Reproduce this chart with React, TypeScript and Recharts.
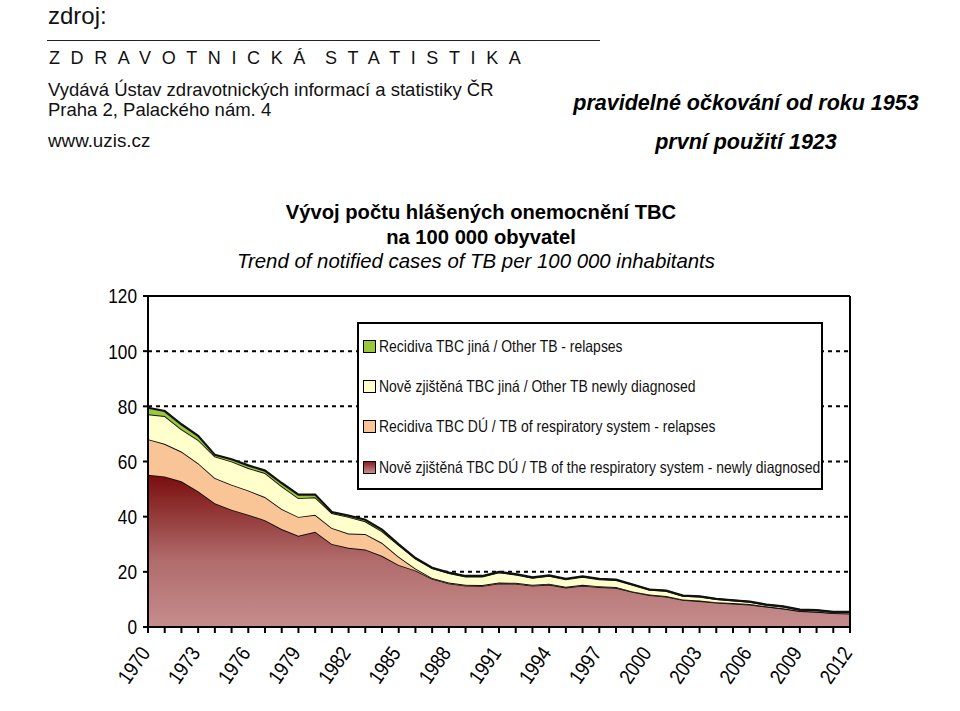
import { AreaChart, Area, XAxis, YAxis, CartesianGrid, ReferenceLine } from 'recharts';

const years = [
  1970, 1971, 1972, 1973, 1974, 1975, 1976, 1977, 1978, 1979, 1980, 1981, 1982, 1983, 1984,
  1985, 1986, 1987, 1988, 1989, 1990, 1991, 1992, 1993, 1994, 1995, 1996, 1997, 1998, 1999,
  2000, 2001, 2002, 2003, 2004, 2005, 2006, 2007, 2008, 2009, 2010, 2011, 2012,
];

// Nově zjištěná TBC DÚ
const newRespiratory = [
  55.2, 54.6, 52.8, 49.2, 44.9, 42.5, 40.7, 38.7, 35.5, 33.1, 34.5, 30.1, 28.7, 28.1, 25.8,
  22.5, 20.5, 17.5, 15.8, 15.0, 14.9, 15.8, 15.7, 15.0, 15.4, 14.3, 15.0, 14.5, 14.2, 12.7,
  11.6, 11.0, 9.8, 9.4, 8.8, 8.5, 8.1, 7.4, 6.7, 5.8, 5.5, 5.0, 4.9,
];
// Recidiva TBC DÚ
const relapsesRespiratory = [
  12.9, 11.8, 10.8, 10.2, 9.1, 9.1, 8.8, 8.4, 7.3, 6.8, 6.2, 5.8, 5.2, 5.6, 4.7,
  3.0, 0.7, 0.3, 0.3, 0.3, 0.3, 0.3, 0.3, 0.3, 0.3, 0.3, 0.3, 0.3, 0.3, 0.2,
  0.2, 0.2, 0.2, 0.2, 0.2, 0.2, 0.2, 0.1, 0.1, 0.1, 0.1, 0.1, 0.1,
];
// Nově zjištěná TBC jiná
const newOther = [
  9.0, 10.1, 8.1, 8.4, 7.8, 8.4, 8.1, 8.7, 8.2, 6.8, 6.3, 5.4, 6.0, 4.6, 4.2,
  4.2, 3.6, 3.5, 3.4, 3.0, 3.1, 3.7, 3.0, 2.5, 2.8, 2.7, 2.9, 2.5, 2.5, 2.4,
  1.7, 1.9, 1.3, 1.4, 1.1, 0.9, 0.8, 0.5, 0.6, 0.3, 0.4, 0.3, 0.4,
];
// Recidiva TBC jiná
const relapsesOther = [
  2.4, 1.8, 1.8, 1.5, 0.6, 0.8, 1.0, 0.9, 1.2, 1.3, 1.0, 0.4, 0.5, 0.6, 0.6,
  0.3, 0.2, 0.2, 0.2, 0.2, 0.2, 0.2, 0.2, 0.2, 0.2, 0.2, 0.2, 0.2, 0.2, 0.1,
  0.1, 0.1, 0.1, 0.1, 0.1, 0.1, 0.1, 0.1, 0.1, 0.1, 0.1, 0.1, 0.1,
];

const yTicks = [0, 20, 40, 60, 80, 100, 120];
const labelYears = [1970, 1973, 1976, 1979, 1982, 1985, 1988, 1991, 1994, 1997, 2000, 2003, 2006, 2009, 2012];

const legendItems = [
  { label: 'Recidiva TBC jiná / Other TB - relapses', fill: '#99c93a' },
  { label: 'Nově zjištěná TBC jiná / Other TB newly diagnosed', fill: '#ffffcc' },
  { label: 'Recidiva TBC DÚ / TB of respiratory system - relapses', fill: '#f9c596' },
  { label: 'Nově zjištěná TBC DÚ / TB of the respiratory system - newly diagnosed', fill: 'linear-gradient(#8a1c1c, #c89090)' },
];

const chartData = years.map((year, i) => ({
  year,
  newResp: newRespiratory[i],
  relResp: relapsesRespiratory[i],
  newOther: newOther[i],
  relOther: relapsesOther[i],
}));

const sans = "'Liberation Sans', Arial, sans-serif";
// no narrow font installed, so squeeze the regular one
const squeeze = 0.84;

function YearTick({ x, y, payload }: any) {
  if (!labelYears.includes(payload.value)) return <g />;
  const ax = x - 3;
  const ay = y + 14;
  return (
    <text
      x={0}
      y={0}
      transform={`translate(${ax} ${ay}) rotate(-55) scale(${squeeze} 1)`}
      textAnchor="end"
      dy="0.35em"
      fontSize={21}
      fontFamily={sans}
      fill="#000"
    >
      {payload.value}
    </text>
  );
}

function ValueTick({ x, y, payload }: any) {
  return (
    <text
      x={0}
      y={0}
      transform={`translate(${x} ${y}) scale(${squeeze} 1)`}
      textAnchor="end"
      dy="0.36em"
      fontSize={20.5}
      fontFamily={sans}
      fill="#000"
    >
      {payload.value}
    </text>
  );
}

function LegendBox() {
  return (
    <div
      style={{
        position: 'absolute',
        left: 357,
        top: 322,
        width: 466,
        height: 168,
        border: '2px solid #000',
        background: '#fff',
        boxSizing: 'border-box',
        paddingTop: 2,
      }}
    >
      {legendItems.map((item) => (
        <div key={item.label} style={{ display: 'flex', alignItems: 'center', height: 40.4, paddingLeft: 4 }}>
          <span
            style={{
              width: 11,
              height: 11,
              flex: 'none',
              border: '1.5px solid #000',
              background: item.fill,
              marginRight: 3,
            }}
          />
          <span
            style={{
              display: 'inline-block',
              whiteSpace: 'nowrap',
              fontSize: 16.5,
              color: '#111',
              transform: 'scaleX(0.845)',
              transformOrigin: 'left center',
            }}
          >
            {item.label}
          </span>
        </div>
      ))}
    </div>
  );
}

export default function App() {
  return (
    <div style={{ position: 'absolute', left: 0, top: 0, width: 960, height: 711, background: '#fff', fontFamily: sans, color: '#111', overflow: 'hidden' }}>
      <div style={{ position: 'absolute', left: 48, top: 3, fontSize: 24, lineHeight: '26px' }}>zdroj:</div>
      <div style={{ position: 'absolute', left: 47, top: 40, width: 553, borderTop: '1px solid #222' }} />
      <div style={{ position: 'absolute', left: 49, top: 48, fontSize: 18, letterSpacing: 10.6 }}>ZDRAVOTNICKÁ</div>
      <div style={{ position: 'absolute', left: 325, top: 48, fontSize: 18, letterSpacing: 10.6 }}>STATISTIKA</div>
      <div style={{ position: 'absolute', left: 48, top: 80, fontSize: 18.5, lineHeight: '20px', whiteSpace: 'nowrap' }}>
        Vydává Ústav zdravotnických informací a statistiky ČR
        <br />
        Praha 2, Palackého nám. 4
      </div>
      <div style={{ position: 'absolute', left: 48, top: 130, fontSize: 18.8 }}>www.uzis.cz</div>
      <div style={{ position: 'absolute', left: 496, width: 500, top: 91, textAlign: 'center', fontSize: 21.5, fontWeight: 'bold', fontStyle: 'italic', color: '#000' }}>
        pravidelné očkování od roku 1953
      </div>
      <div style={{ position: 'absolute', left: 496, width: 500, top: 130, textAlign: 'center', fontSize: 21.5, fontWeight: 'bold', fontStyle: 'italic', color: '#000' }}>
        první použití 1923
      </div>
      <div style={{ position: 'absolute', left: 181, width: 600, top: 200, textAlign: 'center', fontSize: 20.2, fontWeight: 'bold', lineHeight: '25px', color: '#000' }}>
        Vývoj počtu hlášených onemocnění TBC
        <br />
        na 100 000 obyvatel
      </div>
      <div style={{ position: 'absolute', left: 176, width: 600, top: 250, textAlign: 'center', fontSize: 20.4, fontStyle: 'italic', color: '#000' }}>
        Trend of notified cases of TB per 100 000 inhabitants
      </div>

      <div style={{ position: 'absolute', left: 0, top: 0 }}>
        <AreaChart width={960} height={711} data={chartData} margin={{ top: 296, right: 110, bottom: 24, left: 100 }}>
          <defs>
            <linearGradient id="redFill" x1="0" y1="0" x2="0" y2="1">
              <stop offset="0%" stopColor="#7a0c0c" />
              <stop offset="55%" stopColor="#b06a6a" />
              <stop offset="100%" stopColor="#c68d8d" />
            </linearGradient>
          </defs>
          <CartesianGrid vertical={false} stroke="#000" strokeWidth={2} strokeDasharray="4 4" />
          <XAxis
            dataKey="year"
            interval={0}
            tick={<YearTick />}
            tickSize={6}
            tickLine={{ stroke: '#000', strokeWidth: 2 }}
            axisLine={{ stroke: '#000', strokeWidth: 2 }}
            height={60}
          />
          <YAxis
            domain={[0, 120]}
            ticks={yTicks}
            width={48}
            tickSize={5}
            tickMargin={6}
            tickLine={{ stroke: '#000', strokeWidth: 2 }}
            axisLine={{ stroke: '#000', strokeWidth: 2 }}
            tick={<ValueTick />}
          />
          <Area dataKey="newResp" stackId="1" type="linear" fill="url(#redFill)" fillOpacity={1} stroke="#111" strokeWidth={1.8} isAnimationActive={false} />
          <Area dataKey="relResp" stackId="1" type="linear" fill="#f9c596" fillOpacity={1} stroke="#111" strokeWidth={1.8} isAnimationActive={false} />
          <Area dataKey="newOther" stackId="1" type="linear" fill="#ffffcc" fillOpacity={1} stroke="#111" strokeWidth={1.8} isAnimationActive={false} />
          <Area dataKey="relOther" stackId="1" type="linear" fill="#99c93a" fillOpacity={1} stroke="#111" strokeWidth={2.2} isAnimationActive={false} />
          <ReferenceLine y={120} stroke="#000" strokeWidth={2} />
          <ReferenceLine x={2012} stroke="#000" strokeWidth={2} />
        </AreaChart>
      </div>
      <LegendBox />
    </div>
  );
}
